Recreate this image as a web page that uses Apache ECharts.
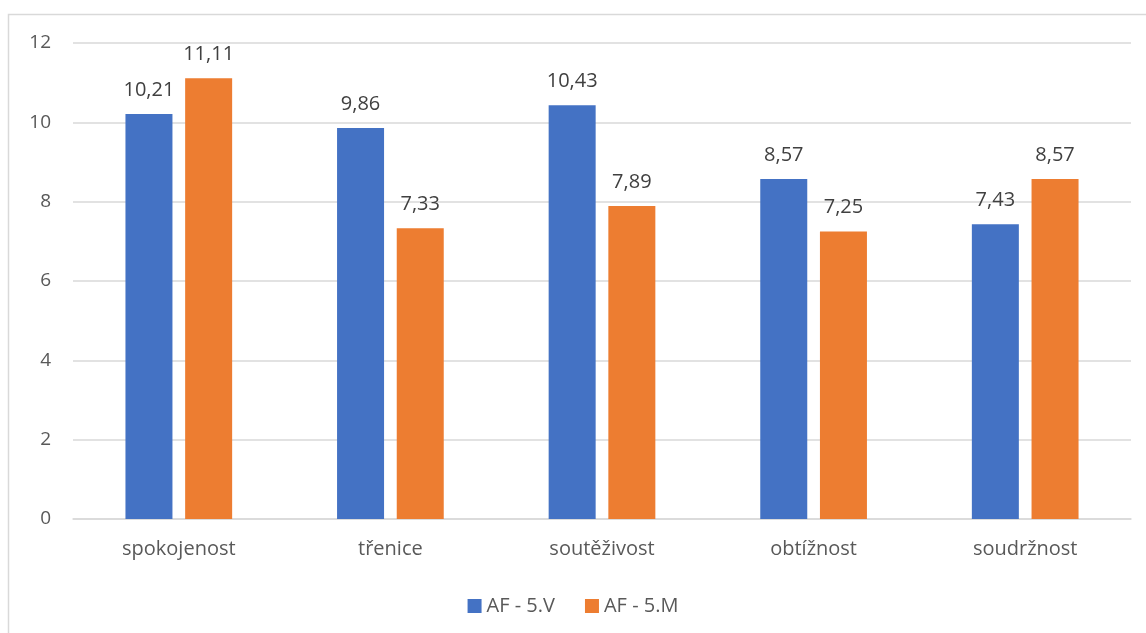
<!DOCTYPE html>
<html>
<head>
<meta charset="utf-8">
<script src="https://cdn.jsdelivr.net/npm/echarts@6/dist/echarts.min.js"></script>
<style>
html, body { margin: 0; padding: 0; background: #fff; }
#main { width: 1146px; height: 633px; }
</style>
</head>
<body>
<div id="main"></div>
<script>
var categories = ['spokojenost', 'třenice', 'soutěživost', 'obtížnost', 'soudržnost'];
var seriesNames = ['AF - 5.V', 'AF - 5.M'];
var valuesV = [10.21, 9.86, 10.43, 8.57, 7.43];
var valuesM = [11.11, 7.33, 7.89, 7.25, 8.57];

var myChart = echarts.init(document.getElementById('main'));

// popisky hodnot s desetinnou čárkou
var labelStyle = {
	show : true,
	position : 'top',
	distance : 14,
	color : '#404040',
	fontSize : 20,
	fontFamily : 'Open Sans',
	formatter : function(p) {
		return p.value.toFixed(2).replace('.', ',');
	}
};

var option = {
	animation : false,
	textStyle : { fontFamily : 'Open Sans' },
	graphic : [ {
		type : 'rect',
		shape : { x : 8.5, y : 14.5, width : 1160, height : 640 },
		style : { fill : 'none', stroke : '#d9d9d9', lineWidth : 1.5 },
		silent : true
	} ],
	legend : {
		data : seriesNames,
		bottom : 12,
		left : 'center',
		itemWidth : 14,
		itemHeight : 14,
		itemGap : 30,
		icon : 'rect',
		textStyle : { color : '#595959', fontSize : 20, fontFamily : 'Open Sans' }
	},
	grid : {
		left : 73,
		right : 15,
		top : 43,
		bottom : 114,
		containLabel : false
	},
	xAxis : {
		type : 'category',
		data : categories,
		axisLine : { lineStyle : { color : '#d9d9d9', width : 1.5 } },
		axisTick : { show : false },
		axisLabel : { color : '#595959', fontSize : 20, margin : 20 }
	},
	yAxis : {
		type : 'value',
		min : 0,
		max : 12,
		interval : 2,
		axisLine : { show : false },
		axisTick : { show : false },
		splitLine : { lineStyle : { color : '#d9d9d9', width : 1.5 } },
		axisLabel : { color : '#595959', fontSize : 19, margin : 22 }
	},
	series : [ {
		name : seriesNames[0],
		type : 'bar',
		data : valuesV,
		barWidth : 47,
		barGap : '27%',
		itemStyle : { color : '#4472c4' },
		label : labelStyle
	}, {
		name : seriesNames[1],
		type : 'bar',
		data : valuesM,
		barWidth : 47,
		itemStyle : { color : '#ed7d31' },
		label : labelStyle
	} ]
};

myChart.setOption(option);
</script>
</body>
</html>
